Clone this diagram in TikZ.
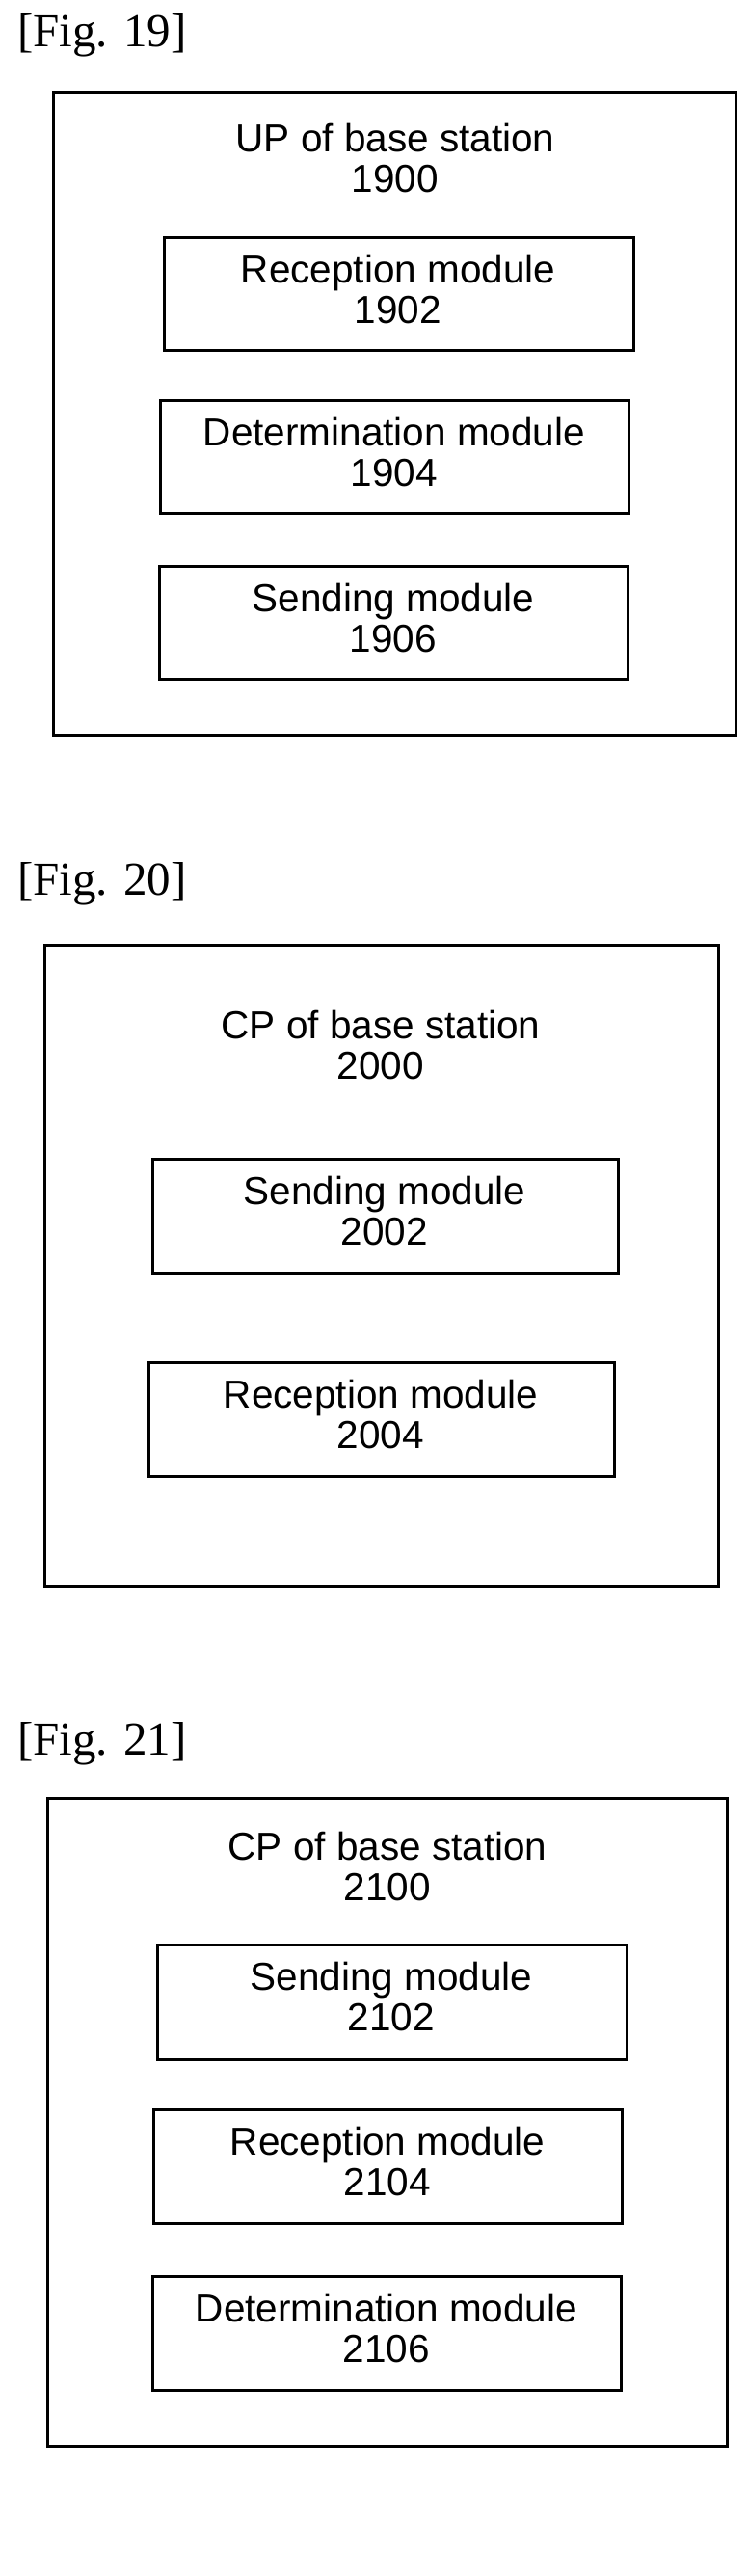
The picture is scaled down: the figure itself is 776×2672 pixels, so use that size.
\documentclass[tikz,border=0pt]{standalone}
\usepackage{fontspec}
\setmainfont{Liberation Sans}
\newfontfamily\figfont{Liberation Serif}
\begin{document}
\begin{tikzpicture}[x=1pt,y=-1pt,
  box/.style={draw,line width=3pt},
  txt/.style={font=\fontsize{40.5}{42}\selectfont,align=center,inner sep=0pt},
  figlab/.style={font=\figfont\fontsize{49}{50}\selectfont,anchor=base west,inner sep=0pt}]
\useasboundingbox (0,0) rectangle (776,2672);
% Fig 19
\node[figlab] (l19) at (18,48) {[Fig. 19]};
\draw[box] (55,95) rectangle (763,762);
\node[txt,anchor=base] (t19a) at (410,157) {UP of base station};
\node[txt,anchor=base] (t19b) at (410,199) {1900};
\draw[box] (170,246) rectangle (657,363);
\node[txt] (m1902) at (413,300) {Reception module\\1902};
\draw[box] (166,415) rectangle (652,532);
\node[txt] (m1904) at (409,469) {Determination module\\1904};
\draw[box] (165,587) rectangle (651,704);
\node[txt] (m1906) at (408,641) {Sending module\\1906};
% Fig 20
\node[figlab] (l20) at (18,928) {[Fig. 20]};
\draw[box] (46,980) rectangle (745,1645);
\node[txt,anchor=base] (t20a) at (395,1077) {CP of base station};
\node[txt,anchor=base] (t20b) at (395,1119) {2000};
\draw[box] (158,1202) rectangle (641,1320);
\node[txt] (m2002) at (399,1256) {Sending module\\2002};
\draw[box] (154,1413) rectangle (637,1531);
\node[txt] (m2004) at (395,1467) {Reception module\\2004};
% Fig 21
\node[figlab] (l21) at (18,1820) {[Fig. 21]};
\draw[box] (49,1865) rectangle (754,2537);
\node[txt,anchor=base] (t21a) at (402,1929) {CP of base station};
\node[txt,anchor=base] (t21b) at (402,1971) {2100};
\draw[box] (163,2017) rectangle (650,2136);
\node[txt] (m2102) at (406,2071) {Sending module\\2102};
\draw[box] (159,2188) rectangle (645,2306);
\node[txt] (m2104) at (402,2242) {Reception module\\2104};
\draw[box] (158,2361) rectangle (644,2479);
\node[txt] (m2106) at (401,2415) {Determination module\\2106};
\end{tikzpicture}
\end{document}
